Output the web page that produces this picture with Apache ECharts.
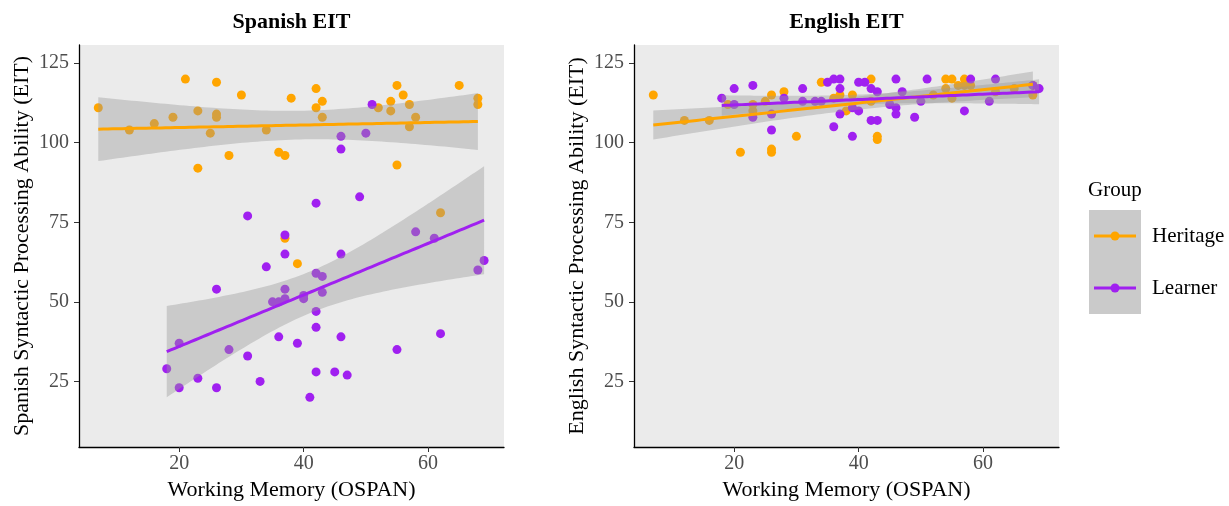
<!DOCTYPE html>
<html>
<head>
<meta charset="utf-8">
<script src="https://cdn.jsdelivr.net/npm/echarts@6/dist/echarts.min.js"></script>
<style>
html, body { margin: 0; padding: 0; background: #fff; }
#chart { width: 1229px; height: 506px; }
</style>
</head>
<body>
<div id="chart"></div>
<script>
// Spanish EIT, heritage speakers
const spanishHeritageX = [7, 12, 16, 19, 21, 23, 23, 25, 26, 26, 26, 28, 30, 34, 36, 37, 37, 38, 39, 42, 42, 43, 43, 52, 54, 54, 55, 55, 56, 57, 57, 58, 62, 65, 68, 68];
const spanishHeritageY = [111, 104, 106, 108, 120, 92, 110, 103, 119, 109, 108, 96, 115, 104, 97, 96, 70, 114, 62, 117, 111, 113, 108, 111, 113, 110, 118, 93, 115, 112, 105, 108, 78, 118, 114, 112];
// Spanish EIT, learners
const spanishLearnerX = [18, 20, 20, 23, 26, 26, 28, 31, 31, 33, 34, 35, 36, 36, 37, 37, 37, 37, 39, 40, 40, 41, 42, 42, 42, 42, 42, 43, 43, 45, 46, 46, 46, 46, 47, 49, 50, 51, 55, 58, 61, 62, 68, 69];
const spanishLearnerY = [29, 37, 23, 26, 23, 54, 35, 77, 33, 25, 61, 50, 50, 39, 71, 65, 54, 51, 37, 52, 51, 20, 81, 59, 47, 42, 28, 58, 53, 28, 102, 98, 65, 39, 27, 83, 103, 112, 35, 72, 70, 40, 60, 63];
// English EIT, heritage speakers
const englishHeritageX = [7, 12, 16, 19, 21, 23, 23, 25, 26, 26, 26, 28, 30, 34, 36, 37, 38, 39, 42, 42, 43, 43, 52, 54, 54, 55, 55, 56, 57, 57, 58, 62, 65, 68, 68];
const englishHeritageY = [115, 107, 107, 112, 97, 110, 112, 113, 98, 97, 115, 116, 102, 119, 114, 115, 110, 115, 120, 113, 102, 101, 115, 120, 117, 120, 114, 118, 120, 118, 118, 116, 117, 115, 118];
// English EIT, learners
const englishLearnerX = [18, 20, 20, 23, 23, 26, 26, 28, 31, 31, 33, 34, 35, 36, 36, 37, 37, 37, 39, 39, 40, 40, 41, 42, 42, 43, 43, 45, 46, 46, 46, 47, 49, 50, 51, 57, 58, 61, 62, 68, 69];
const englishLearnerY = [114, 117, 112, 118, 108, 109, 104, 114, 117, 113, 113, 113, 119, 120, 105, 120, 117, 109, 111, 102, 119, 110, 119, 117, 107, 116, 107, 112, 120, 111, 109, 116, 108, 113, 120, 110, 120, 113, 120, 118, 117];

const xTicks = [20, 40, 60];
const yTicks = [25, 50, 75, 100, 125];
const groups = ['Heritage', 'Learner'];
const panelTitles = ['Spanish EIT', 'English EIT'];
const yNames = ['Spanish Syntactic Processing Ability (EIT)', 'English Syntactic Processing Ability (EIT)'];
const xName = 'Working Memory (OSPAN)';

const serif = '"Liberation Serif", "DejaVu Serif", serif';
const orange = '#FFA500';
const purple = '#A020F0';
const bandFill = 'rgba(153,153,153,0.4)';

// lm fit with 95% confidence band, like geom_smooth(method = "lm")
function tQuantile(df) {
  let z = 1.959964;
  return z + (z * z * z + z) / (4 * df) + (5 * Math.pow(z, 5) + 16 * Math.pow(z, 3) + 3 * z) / (96 * df * df);
}
function fitLm(xs, ys) {
  let n = xs.length;
  let xbar = 0, ybar = 0;
  for (let i = 0; i < n; i++) { xbar += xs[i]; ybar += ys[i]; }
  xbar /= n; ybar /= n;
  let sxx = 0, sxy = 0;
  for (let i = 0; i < n; i++) {
    sxx += (xs[i] - xbar) * (xs[i] - xbar);
    sxy += (xs[i] - xbar) * (ys[i] - ybar);
  }
  let b = sxy / sxx, a = ybar - b * xbar;
  let sse = 0;
  for (let i = 0; i < n; i++) { let r = ys[i] - a - b * xs[i]; sse += r * r; }
  let s = Math.sqrt(sse / (n - 2));
  let t = tQuantile(n - 2);
  let x0 = Math.min.apply(null, xs), x1 = Math.max.apply(null, xs);
  let line = [], band = [];
  for (let k = 0; k < 80; k++) {
    let x = x0 + (x1 - x0) * k / 79;
    let yhat = a + b * x;
    let half = t * s * Math.sqrt(1 / n + (x - xbar) * (x - xbar) / sxx);
    line.push([x, yhat]);
    band.push([x, yhat - half, yhat + half]);
  }
  return { line: line, band: band };
}

function pairs(xs, ys) {
  return xs.map((x, i) => [x, ys[i]]);
}

function bandSeries(band, idx) {
  return {
    type: 'custom', xAxisIndex: idx, yAxisIndex: idx, silent: true, z: 5,
    data: [[band[0][0], band[0][1]]],
    renderItem: function (params, api) {
      let upper = band.map(p => api.coord([p[0], p[2]]));
      let lower = band.slice().reverse().map(p => api.coord([p[0], p[1]]));
      return { type: 'polygon', shape: { points: upper.concat(lower) }, style: { fill: bandFill } };
    }
  };
}

function panelSeries(idx, hx, hy, lx, ly) {
  let fh = fitLm(hx, hy), fl = fitLm(lx, ly);
  let pts = [
    { type: 'scatter', name: groups[0], xAxisIndex: idx, yAxisIndex: idx, z: 2, symbolSize: 9, itemStyle: { color: orange, opacity: 1 }, data: pairs(hx, hy) },
    { type: 'scatter', name: groups[1], xAxisIndex: idx, yAxisIndex: idx, z: 2, symbolSize: 9, itemStyle: { color: purple, opacity: 1 }, data: pairs(lx, ly) }
  ];
  let smooth = [
    bandSeries(fh.band, idx),
    { type: 'line', xAxisIndex: idx, yAxisIndex: idx, z: 6, showSymbol: false, lineStyle: { color: orange, width: 3 }, data: fh.line },
    bandSeries(fl.band, idx),
    { type: 'line', xAxisIndex: idx, yAxisIndex: idx, z: 6, showSymbol: false, lineStyle: { color: purple, width: 3 }, data: fl.line }
  ];
  return pts.concat(smooth);
}

function xAxisFor(idx) {
  return {
    type: 'value', gridIndex: idx, min: 3.9, max: 72.2,
    name: xName, nameLocation: 'middle', nameGap: 32,
    nameTextStyle: { fontFamily: serif, fontSize: 22, color: '#000' },
    axisLine: { show: true, onZero: false, lineStyle: { color: '#000', width: 1.3 } },
    axisTick: { show: true, length: 5, customValues: xTicks, lineStyle: { color: '#333' } },
    axisLabel: { customValues: xTicks, fontFamily: serif, fontSize: 20, color: '#4D4D4D', margin: 7 },
    splitLine: { show: false }
  };
}

function yAxisFor(idx) {
  return {
    type: 'value', gridIndex: idx, min: 4.4, max: 130.7,
    name: yNames[idx], nameLocation: 'middle', nameGap: 46, nameRotate: 90,
    nameTextStyle: { fontFamily: serif, fontSize: 22, color: '#000' },
    axisLine: { show: true, onZero: false, lineStyle: { color: '#000', width: 1.3 } },
    axisTick: { show: true, length: 5, customValues: yTicks, lineStyle: { color: '#333' } },
    axisLabel: { customValues: yTicks, fontFamily: serif, fontSize: 20, color: '#4D4D4D', margin: 10 },
    splitLine: { show: false }
  };
}

let legendItems = [];
[orange, purple].forEach((c, i) => {
  let y = 236 + i * 52;
  legendItems.push({ type: 'line', shape: { x1: 1094, y1: y, x2: 1136, y2: y }, style: { stroke: c, lineWidth: 3 } });
  legendItems.push({ type: 'circle', shape: { cx: 1115, cy: y, r: 4.5 }, style: { fill: c } });
  legendItems.push({ type: 'text', style: { x: 1152, y: y, text: groups[i], font: '21px ' + serif, fill: '#000', textVerticalAlign: 'middle' } });
});

let option = {
  animation: false,
  backgroundColor: '#fff',
  grid: [
    { left: 79, top: 45, width: 425, height: 405, show: true, backgroundColor: '#EBEBEB', borderWidth: 0 },
    { left: 634, top: 45, width: 425, height: 405, show: true, backgroundColor: '#EBEBEB', borderWidth: 0 }
  ],
  xAxis: [xAxisFor(0), xAxisFor(1)],
  yAxis: [yAxisFor(0), yAxisFor(1)],
  series: panelSeries(0, spanishHeritageX, spanishHeritageY, spanishLearnerX, spanishLearnerY)
    .concat(panelSeries(1, englishHeritageX, englishHeritageY, englishLearnerX, englishLearnerY)),
  graphic: [
    { type: 'text', style: { x: 291.5, y: 22, text: panelTitles[0], font: 'bold 22px ' + serif, fill: '#000', textAlign: 'center', textVerticalAlign: 'middle' } },
    { type: 'text', style: { x: 846.5, y: 22, text: panelTitles[1], font: 'bold 22px ' + serif, fill: '#000', textAlign: 'center', textVerticalAlign: 'middle' } },
    { type: 'text', style: { x: 1088, y: 190, text: 'Group', font: '21px ' + serif, fill: '#000', textVerticalAlign: 'middle' } },
    { type: 'rect', shape: { x: 1089, y: 210, width: 52, height: 104 }, style: { fill: '#CACACA' } }
  ].concat(legendItems)
};

let chart = echarts.init(document.getElementById('chart'));
chart.setOption(option);
</script>
</body>
</html>
